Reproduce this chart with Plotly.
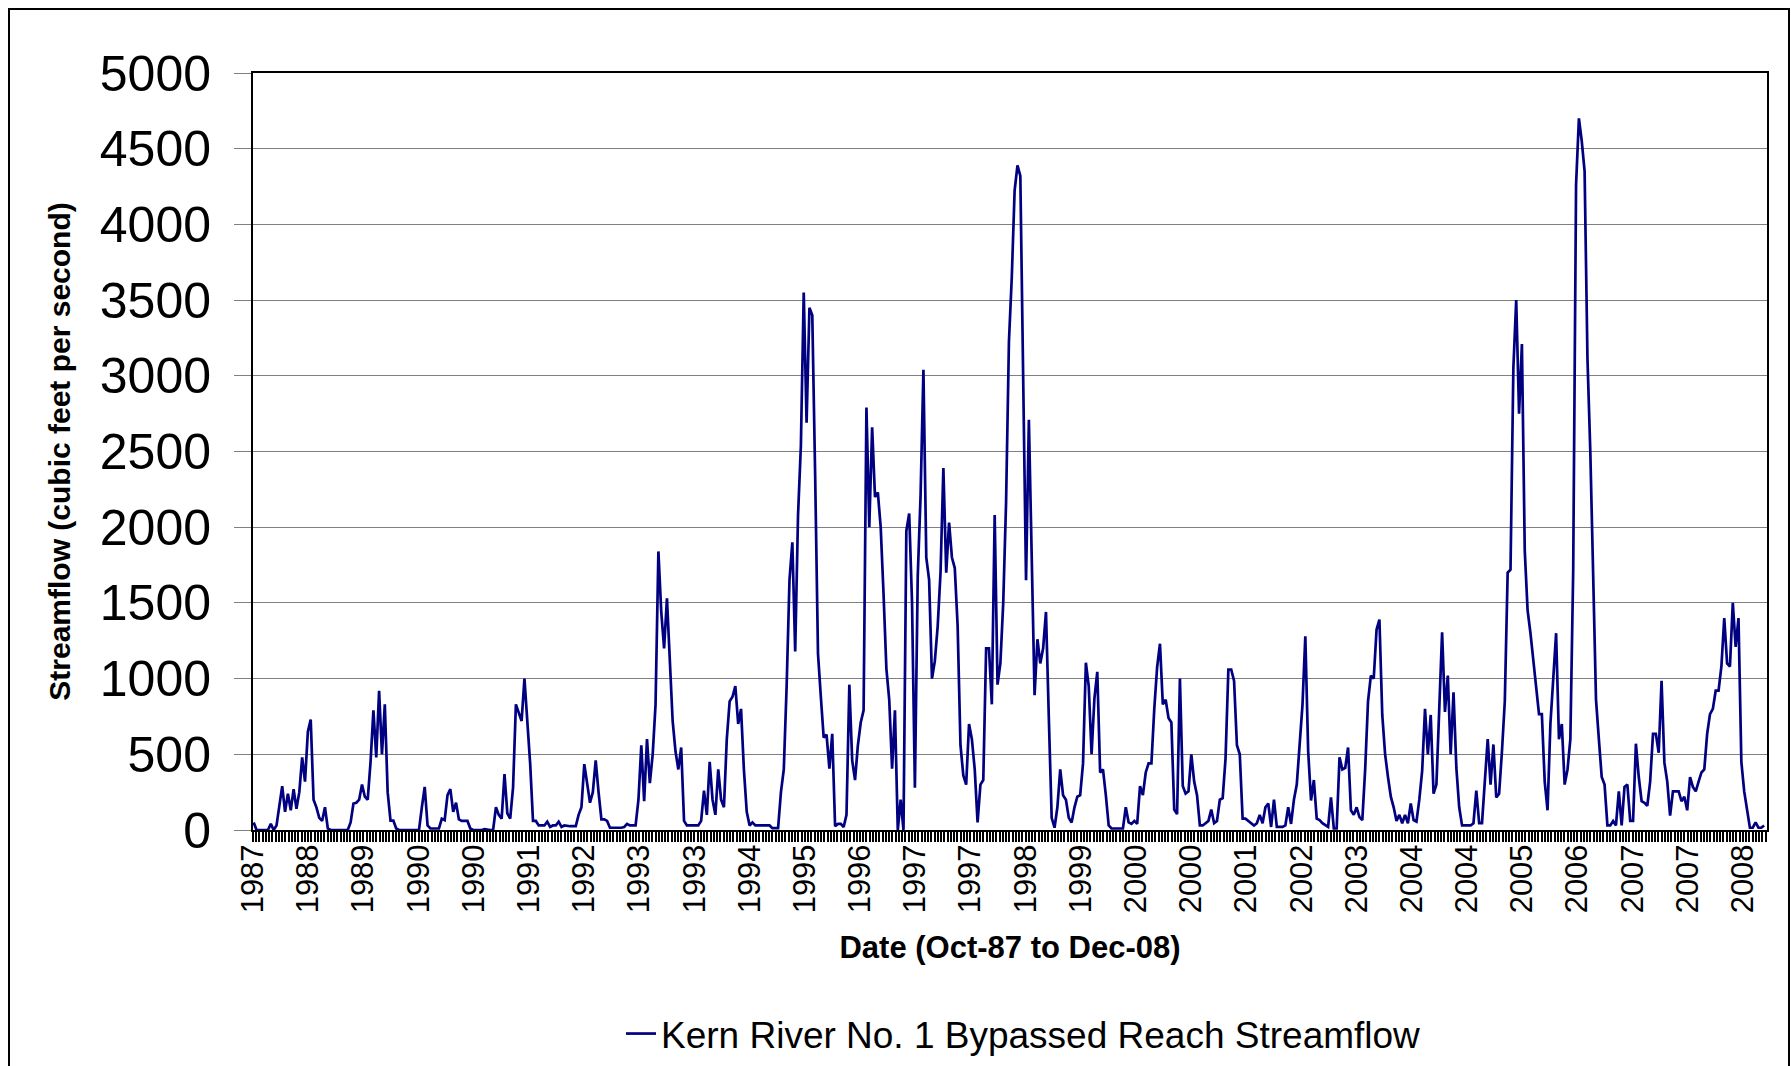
import plotly.graph_objects as go

# ---------------- data (cfs), one value every 0.04 year ----------------
SAMPLE_STEP = 0.04  # years between readings

flow_1987 = [50, 0, 0, 0, 0, 0]  # starts 1987.76
flow_1988 = [40, 0, 30, 150, 290, 120, 240, 130, 270, 140, 250, 480, 320, 650, 730, 200, 150, 80, 60, 150, 10, 0, 0, 0, 0]
flow_1989 = [0, 0, 0, 50, 175, 180, 200, 300, 220, 200, 450, 790, 480, 920, 500, 830, 250, 62, 62, 10, 0, 0, 0, 0, 0]
flow_1990 = [0, 0, 0, 150, 285, 30, 10, 10, 10, 10, 75, 65, 230, 270, 120, 180, 70, 60, 60, 60, 10, 0, 0, 0, 0]
flow_1991 = [5, 0, 0, 0, 150, 100, 75, 370, 110, 75, 280, 830, 770, 720, 1000, 700, 440, 60, 60, 30, 30, 30, 55, 20, 30]
flow_1992 = [30, 55, 20, 30, 25, 25, 25, 25, 100, 150, 435, 300, 180, 250, 460, 250, 70, 70, 60, 15, 15, 15, 15, 15, 20]
flow_1993 = [40, 30, 30, 30, 200, 560, 190, 600, 310, 500, 830, 1840, 1440, 1200, 1530, 1100, 720, 520, 400, 545, 60, 30, 30, 30, 30]
flow_1994 = [30, 60, 260, 100, 450, 200, 100, 400, 200, 150, 600, 850, 880, 950, 700, 800, 400, 120, 30, 50, 30, 30, 30, 30, 30]
flow_1995 = [30, 12, 12, 12, 250, 400, 950, 1650, 1900, 1180, 2080, 2540, 3550, 2690, 3450, 3400, 2350, 1165, 880, 610, 630, 405, 635, 25, 40]
flow_1996 = [40, 20, 100, 960, 460, 330, 560, 710, 790, 2790, 2000, 2660, 2200, 2230, 2000, 1560, 1065, 860, 405, 790, 0, 200, 0, 1975, 2090]
flow_1997 = [1500, 280, 1675, 2210, 3040, 1800, 1650, 1000, 1115, 1345, 1700, 2390, 1700, 2030, 1800, 1730, 1350, 560, 360, 300, 700, 600, 400, 50, 300]
flow_1998 = [330, 1200, 1200, 830, 2080, 960, 1100, 1500, 2165, 3225, 3650, 4225, 4390, 4320, 2985, 1650, 2710, 1830, 890, 1260, 1100, 1200, 1440, 740, 80]
flow_1999 = [15, 150, 400, 230, 200, 80, 50, 150, 220, 230, 440, 1105, 950, 500, 870, 1045, 380, 400, 230, 30, 10, 10, 10, 10, 10]
flow_2000 = [150, 50, 40, 60, 40, 290, 230, 380, 440, 440, 800, 1075, 1230, 830, 860, 740, 710, 135, 105, 1000, 290, 240, 255, 500, 320]
flow_2001 = [230, 30, 30, 45, 60, 135, 45, 60, 200, 210, 470, 1060, 1060, 985, 560, 500, 75, 75, 60, 45, 30, 45, 100, 45, 150]
flow_2002 = [175, 20, 200, 20, 20, 20, 30, 150, 40, 200, 300, 590, 825, 1280, 520, 195, 330, 75, 65, 45, 35, 20, 215, 10, 10]
flow_2003 = [480, 400, 410, 545, 130, 100, 150, 85, 65, 400, 850, 1020, 1000, 1325, 1390, 760, 500, 350, 220, 150, 60, 100, 45, 100, 45]
flow_2004 = [175, 65, 55, 200, 390, 800, 500, 760, 240, 300, 800, 1305, 780, 1020, 500, 910, 410, 150, 30, 30, 30, 30, 45, 260, 45]
flow_2005 = [45, 325, 600, 300, 565, 215, 240, 520, 850, 1700, 1720, 3050, 3500, 2750, 3210, 1845, 1450, 1300, 1110, 920, 765, 765, 320, 130, 700]
flow_2006 = [1000, 1300, 600, 700, 300, 400, 600, 1720, 4260, 4700, 4550, 4350, 3115, 2500, 1685, 860, 600, 350, 300, 30, 30, 60, 30, 255, 30]
flow_2007 = [285, 300, 60, 60, 570, 350, 190, 180, 160, 320, 635, 635, 510, 985, 445, 320, 95, 255, 255, 255, 190, 220, 130, 350, 285]
flow_2008 = [255, 320, 380, 400, 635, 765, 800, 920, 920, 1080, 1400, 1100, 1080, 1500, 1210, 1400, 450, 255, 130, 15, 15, 50, 15, 15, 30]

year_labels = ["1987", "1988", "1989", "1990", "1990", "1991", "1992", "1993", "1993", "1994",
               "1995", "1996", "1997", "1997", "1998", "1999", "2000", "2000", "2001", "2002",
               "2003", "2004", "2004", "2005", "2006", "2007", "2007", "2008"]

series_name = "Kern River No. 1 Bypassed Reach Streamflow"

# ---------------- build series ----------------
segments = [(1987.76, flow_1987), (1988.0, flow_1988), (1989.0, flow_1989), (1990.0, flow_1990),
            (1991.0, flow_1991), (1992.0, flow_1992), (1993.0, flow_1993), (1994.0, flow_1994),
            (1995.0, flow_1995), (1996.0, flow_1996), (1997.0, flow_1997), (1998.0, flow_1998),
            (1999.0, flow_1999), (2000.0, flow_2000), (2001.0, flow_2001), (2002.0, flow_2002),
            (2003.0, flow_2003), (2004.0, flow_2004), (2005.0, flow_2005), (2006.0, flow_2006),
            (2007.0, flow_2007), (2008.0, flow_2008)]
x_vals, y_vals = [], []
for start, vals in segments:
    for i, v in enumerate(vals):
        x_vals.append(round(start + SAMPLE_STEP * i, 4))
        y_vals.append(v)

X_START, X_END = 1987.75, 2009.0
LABEL_STEP = 0.7745
tick_vals = [X_START + k * LABEL_STEP for k in range(len(year_labels))]

FONT = "Liberation Sans, Arial, sans-serif"

fig = go.Figure()
fig.add_trace(go.Scatter(
    x=x_vals, y=y_vals, mode="lines", name=series_name,
    line=dict(color="#000080", width=2.7),
))

W, H = 1791, 1066
L, R, T, B = 253, 24, 73, 236
pw, ph = W - L - R, H - T - B

def px_x(p):
    return (p - L) / pw

def px_y(p):
    return (H - B - p) / ph

fig.update_layout(
    width=W, height=H,
    margin=dict(l=L, r=R, t=T, b=B, pad=0, autoexpand=False),
    paper_bgcolor="white", plot_bgcolor="white",
    font=dict(family=FONT, color="black"),
    showlegend=True,
    legend=dict(orientation="h", x=px_x(621), xanchor="left", y=px_y(1034), yanchor="middle",
                font=dict(size=37, family=FONT), bgcolor="rgba(0,0,0,0)", borderwidth=0),
    xaxis=dict(
        range=[X_START, X_END], tickmode="array", tickvals=tick_vals, ticktext=year_labels,
        tickangle=-90, tickfont=dict(size=31, family=FONT),
        ticks="outside", ticklen=10, tickwidth=2, tickcolor="black",
        minor=dict(tickmode="linear", tick0=X_START, dtick=LABEL_STEP / 17,
                   ticks="outside", ticklen=10, tickwidth=2, tickcolor="black", showgrid=False),
        showgrid=False, zeroline=False, showline=True, linecolor="black", linewidth=2, mirror=True,
        title=dict(text="Date (Oct-87 to Dec-08)", font=dict(size=31, family=FONT, weight="bold"),
                   standoff=24),
        ticklabelstandoff=-10,
        automargin=False,
    ),
    yaxis=dict(
        range=[0, 5000], tickmode="linear", tick0=0, dtick=500,
        tickfont=dict(size=50, family=FONT),
        ticks="outside", ticklen=17, tickwidth=1, tickcolor="#808080",
        showgrid=True, gridcolor="#808080", gridwidth=1,
        zeroline=False, showline=True, linecolor="black", linewidth=2, mirror=True,
        title=dict(text="Streamflow (cubic feet per second)",
                   font=dict(size=30, family=FONT, weight="bold"), standoff=20),
        ticklabelstandoff=13,
        automargin=False,
    ),
    shapes=[dict(type="rect", xref="paper", yref="paper",
                 x0=px_x(9), x1=px_x(1789), y0=px_y(1090), y1=px_y(9),
                 line=dict(color="black", width=2), fillcolor="rgba(0,0,0,0)", layer="below")],
)

fig.write_html("out.html", config={"displayModeBar": False},
               post_script="document.body.style.margin='0';document.body.style.overflow='hidden';")
